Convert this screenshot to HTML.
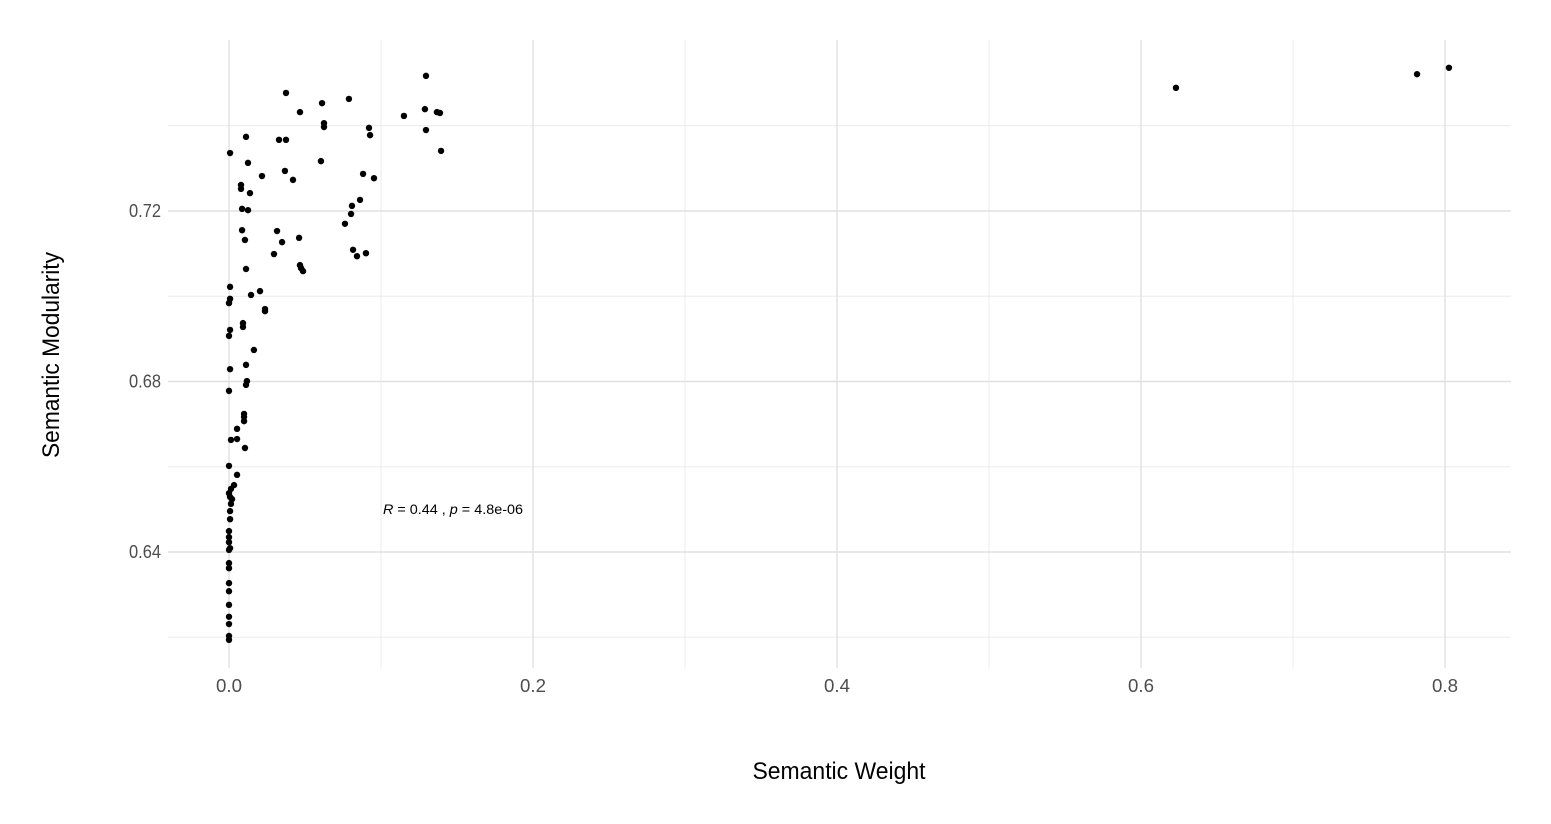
<!DOCTYPE html>
<html><head><meta charset="utf-8"><style>
html,body{margin:0;padding:0;background:#fff;}
svg{display:block;font-family:"Liberation Sans",Arial,sans-serif;}
</style></head><body>
<svg id="chart" width="1551" height="824" viewBox="0 0 1551 824"></svg>
<script>
const xTicks=[0,0.2,0.4,0.6,0.8];
const xTickLabels=["0.0","0.2","0.4","0.6","0.8"];
const xMinor=[0.1,0.3,0.5,0.7];
const yTicks=[0.64,0.68,0.72];
const yTickLabels=["0.64","0.68","0.72"];
const yMinor=[0.62,0.66,0.70,0.74];
const xVals=[0.8026,0.7816,0.6230,0.1296,0.0375,0.0789,0.0612,0.0467,0.1289,0.1368,0.1388,0.1151,0.0625,0.0625,0.0921,0.1296,0.0928,0.0112,0.0329,0.0375,0.1395,0.0007,0.0125,0.0605,0.0368,0.0882,0.0954,0.0217,0.0421,0.0079,0.0079,0.0138,0.0862,0.0809,0.0086,0.0125,0.0803,0.0763,0.0086,0.0316,0.0461,0.0105,0.0349,0.0816,0.0901,0.0296,0.0842,0.0467,0.0474,0.0112,0.0487,0.0007,0.0204,0.0145,0.0007,0.0000,0.0237,0.0237,0.0092,0.0092,0.0007,0.0000,0.0164,0.0112,0.0007,0.0118,0.0112,0.0000,0.0053,0.0099,0.0099,0.0099,0.0013,0.0053,0.0105,0.0000,0.0053,0.0033,0.0013,0.0000,0.0007,0.0020,0.0013,0.0007,0.0007,0.0000,0.0000,0.0000,0.0007,0.0000,0.0000,0.0000,0.0000,0.0000,0.0000,0.0000,0.0000,0.0000,0.0000];
const yVals=[0.7536,0.7521,0.7489,0.7517,0.7477,0.7463,0.7453,0.7432,0.7439,0.7432,0.7430,0.7423,0.7406,0.7397,0.7395,0.7390,0.7378,0.7374,0.7367,0.7367,0.7341,0.7336,0.7313,0.7317,0.7294,0.7287,0.7277,0.7282,0.7273,0.7261,0.7252,0.7242,0.7226,0.7212,0.7205,0.7202,0.7193,0.7170,0.7155,0.7153,0.7137,0.7132,0.7127,0.7109,0.7101,0.7099,0.7094,0.7073,0.7066,0.7064,0.7059,0.7022,0.7012,0.7003,0.6994,0.6984,0.6970,0.6965,0.6937,0.6928,0.6921,0.6907,0.6874,0.6839,0.6829,0.6801,0.6792,0.6778,0.6689,0.6724,0.6717,0.6707,0.6663,0.6665,0.6644,0.6602,0.6581,0.6557,0.6548,0.6538,0.6529,0.6524,0.6513,0.6496,0.6477,0.6449,0.6435,0.6423,0.6409,0.6405,0.6374,0.6362,0.6327,0.6308,0.6276,0.6248,0.6231,0.6203,0.6194];

const NS="http://www.w3.org/2000/svg";
const svg=document.getElementById('chart');
const X=v=>229+v*1520;
const Y=v=>211-(v-0.72)*4262.5;
const L=168,R=1511,T=40,B=668;
function mk(tag,attrs,parent){const e=document.createElementNS(NS,tag);for(const k in attrs)e.setAttribute(k,attrs[k]);(parent||svg).appendChild(e);return e;}
const grid=mk('g',{});


xMinor.forEach(v=>{const l=mk('line',{x1:X(v),x2:X(v),y1:T,y2:B,stroke:'#ebebeb','stroke-width':1},grid);

});
yMinor.forEach(v=>{const l=mk('line',{x1:L,x2:R,y1:Y(v),y2:Y(v),stroke:'#ebebeb','stroke-width':1},grid);

});
xTicks.forEach((v,i)=>{const l=mk('line',{x1:X(v),x2:X(v),y1:T,y2:B,stroke:'#e0e0e0','stroke-width':1.4},grid);


const t=mk('text',{x:X(v),y:692,'text-anchor':'middle','font-size':18,fill:'#4d4d4d',textLength:26,lengthAdjust:'spacingAndGlyphs'});t.textContent=xTickLabels[i];

});
yTicks.forEach((v,i)=>{const l=mk('line',{x1:L,x2:R,y1:Y(v),y2:Y(v),stroke:'#e0e0e0','stroke-width':1.4},grid);


const t=mk('text',{x:161,y:Y(v)+6,'text-anchor':'end','font-size':18,fill:'#4d4d4d',textLength:32,lengthAdjust:'spacingAndGlyphs'});t.textContent=yTickLabels[i];

});
const pts=mk('g',{});


xVals.forEach((v,i)=>{const c=mk('circle',{cx:X(v),cy:Y(yVals[i]),r:3.2,fill:'#000'},pts);

});
</script>
<svg style="position:absolute;left:0;top:0" width="1551" height="824">
<text x="383" y="514" font-family="Liberation Sans, sans-serif" font-size="14" fill="#000" textLength="140" lengthAdjust="spacingAndGlyphs"><tspan font-style="italic">R</tspan> = 0.44 , <tspan font-style="italic">p</tspan> = 4.8e-06</text>
<text x="839" y="779" text-anchor="middle" font-family="Liberation Sans, sans-serif" font-size="24" fill="#000" textLength="173" lengthAdjust="spacingAndGlyphs">Semantic Weight</text>
<text transform="translate(59,355) rotate(-90)" text-anchor="middle" font-family="Liberation Sans, sans-serif" font-size="24" fill="#000" textLength="206" lengthAdjust="spacingAndGlyphs">Semantic Modularity</text>
</svg>
</body></html>
